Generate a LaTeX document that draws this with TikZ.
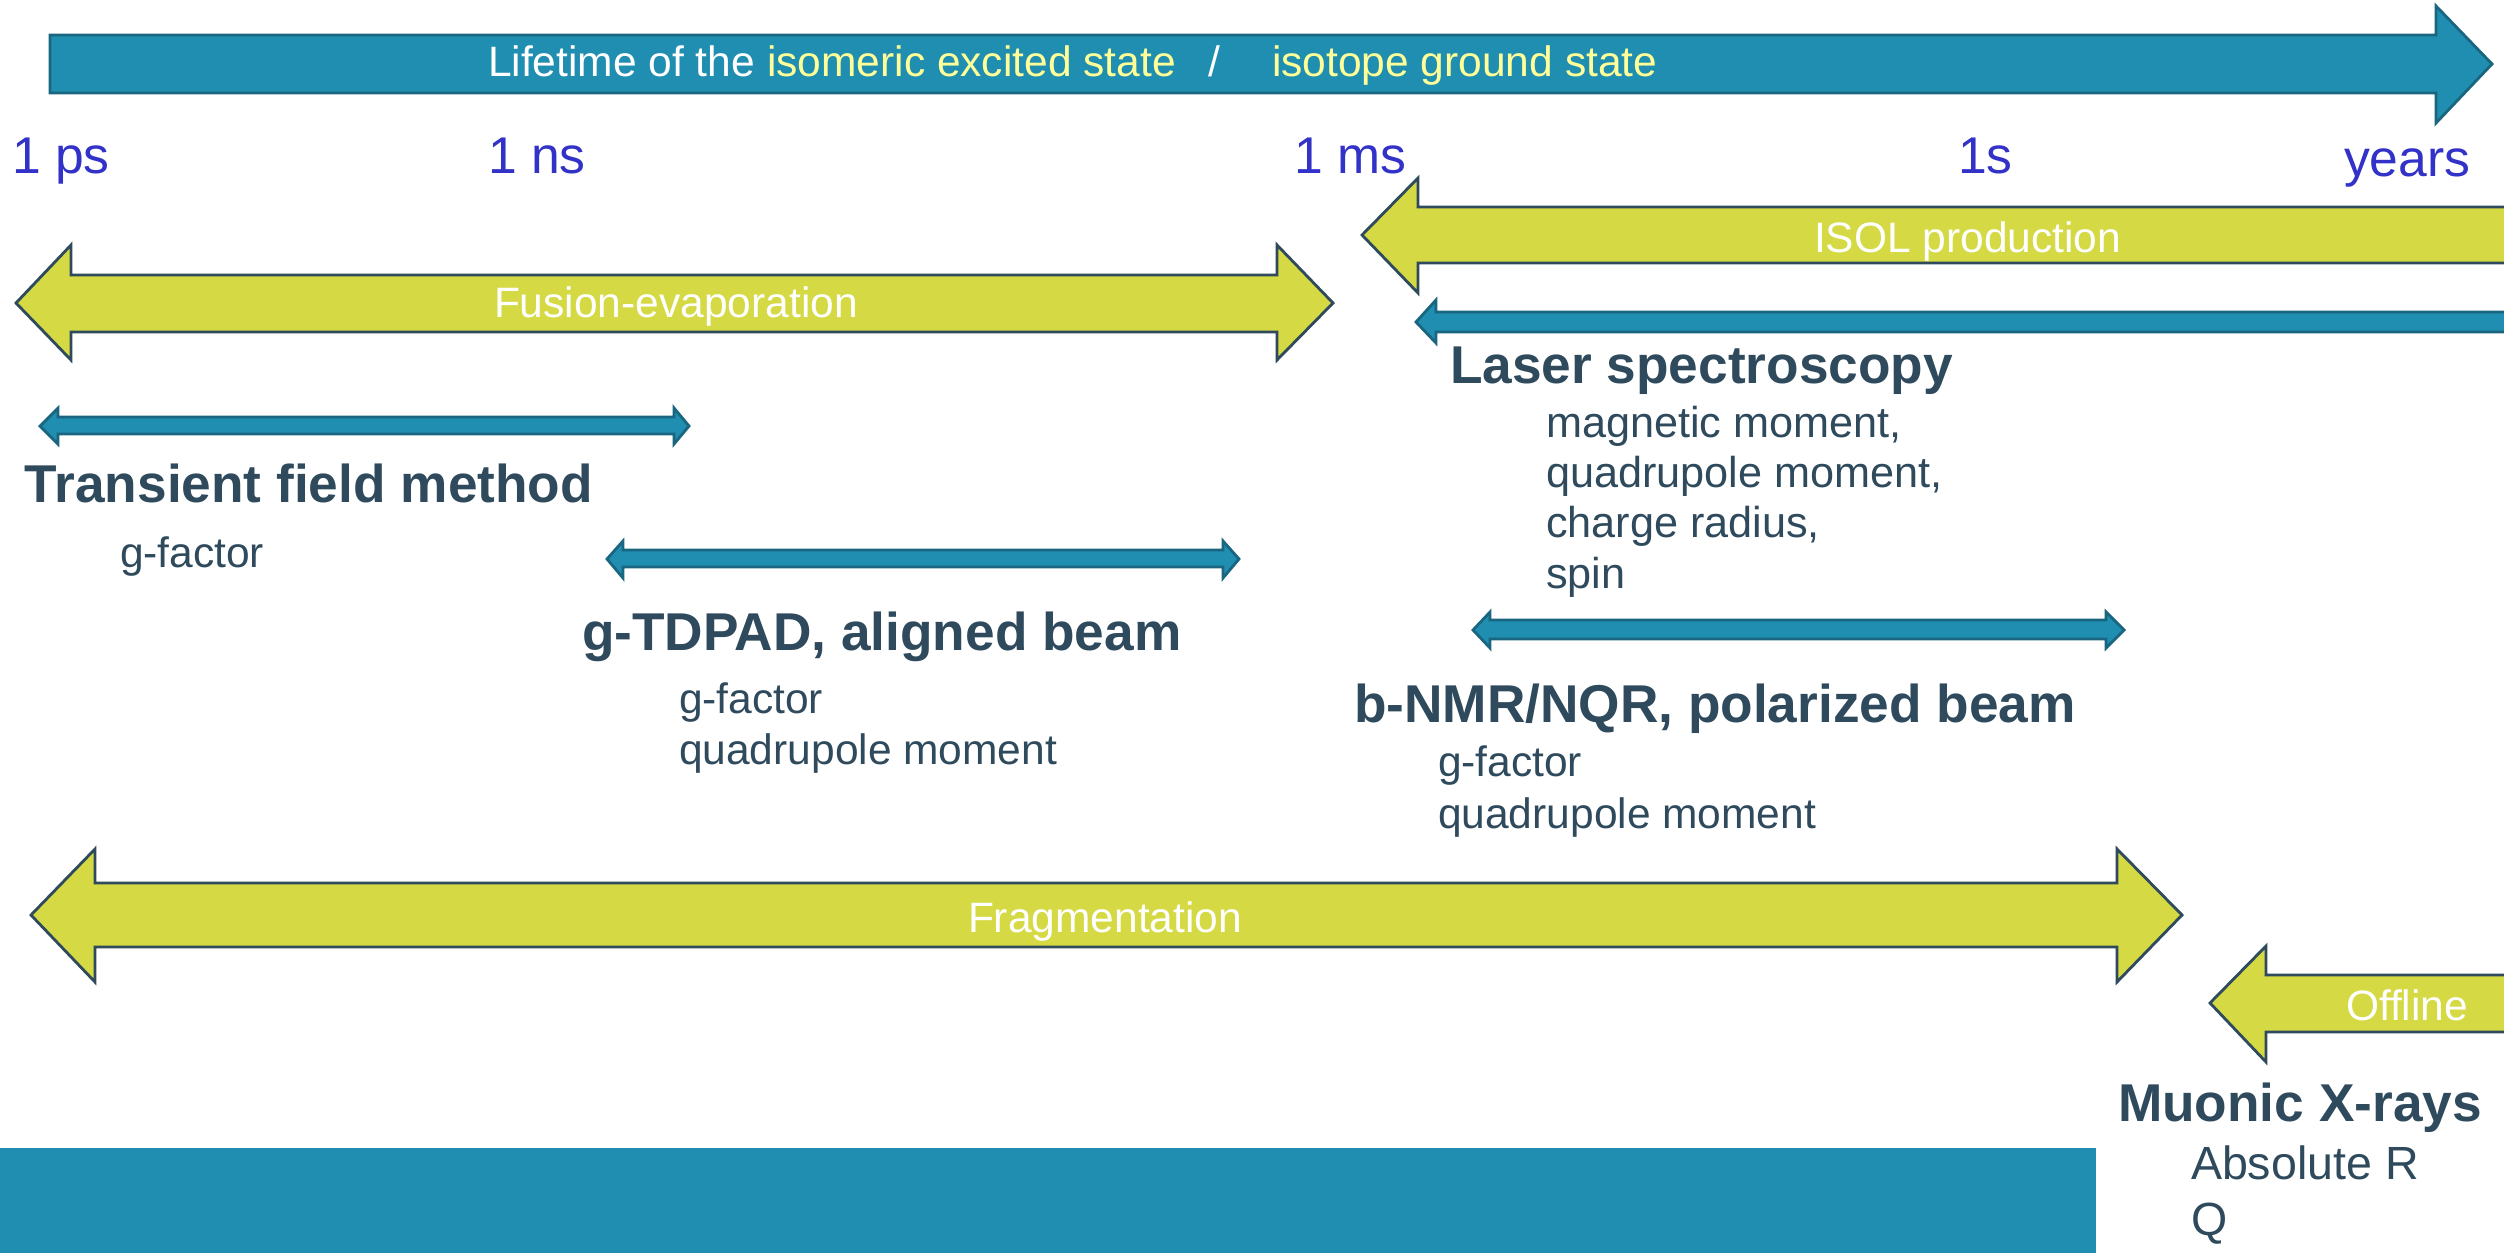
\documentclass[tikz,border=0pt]{standalone}
\usepackage{fontspec}
\setmainfont{Liberation Sans}
\definecolor{teal1}{HTML}{208EB0}
\definecolor{tealb}{HTML}{1A6680}
\definecolor{lime1}{HTML}{D4D944}
\definecolor{slate}{HTML}{2E4A5C}
\definecolor{bluelab}{HTML}{3232C8}
\definecolor{yel}{HTML}{FFFF99}
\tikzset{
  tealarrow/.style={fill=teal1,draw=tealb,line width=1.6pt,line join=miter},
  limearrow/.style={fill=lime1,draw=slate,line width=1.6pt,line join=miter},
  txt/.style={anchor=base west,inner sep=0pt,outer sep=0pt},
  arrowlab/.style={txt,font=\fontsize{24.2pt}{28pt}\selectfont},
  timelab/.style={txt,text=bluelab,font=\fontsize{29.4pt}{34pt}\selectfont},
  head/.style={txt,text=slate,font=\fontsize{30.3pt}{35pt}\selectfont\bfseries},
  item/.style={txt,text=slate,font=\fontsize{24.2pt}{28pt}\selectfont},
  itemlas/.style={txt,text=slate,font=\fontsize{24.6pt}{28pt}\selectfont},
  itembig/.style={txt,text=slate,font=\fontsize{26.5pt}{31pt}\selectfont}
}
\begin{document}
\begin{tikzpicture}[x=0.02cm,y=-0.02cm]
\useasboundingbox (0,0) rectangle (2504,1252);
\clip (0,0) rectangle (2504,1252);
% bottom bar
\fill[teal1] (0,1148) rectangle (2096,1260);
% top lifetime arrow
\draw[tealarrow] (50,35) -- (2436,35) -- (2436,6) -- (2492,64) -- (2436,123) -- (2436,93) -- (50,93) -- cycle;
% ISOL
\draw[limearrow] (2520,207) -- (1418,207) -- (1418,178) -- (1362,235) -- (1418,293) -- (1418,263) -- (2520,263);
% Laser spectroscopy arrow
\draw[tealarrow] (2520,312) -- (1436,312) -- (1436,300) -- (1416,322) -- (1436,343) -- (1436,332) -- (2520,332);
% Fusion-evaporation
\draw[limearrow] (16,303) -- (71,245) -- (71,275) -- (1277,275) -- (1277,245) -- (1333,303) -- (1277,360) -- (1277,332) -- (71,332) -- (71,360) -- cycle;
% Transient field
\draw[tealarrow] (40,426) -- (58,408) -- (58,417) -- (674,417) -- (674,408) -- (689,426) -- (674,444) -- (674,434) -- (58,434) -- (58,444) -- cycle;
% g-TDPAD
\draw[tealarrow] (607,559) -- (623,541) -- (623,550) -- (1223,550) -- (1223,541) -- (1239,559) -- (1223,578) -- (1223,567) -- (623,567) -- (623,578) -- cycle;
% b-NMR
\draw[tealarrow] (1473,630) -- (1490,612) -- (1490,620) -- (2106,620) -- (2106,612) -- (2124,630) -- (2106,648) -- (2106,639) -- (1490,639) -- (1490,648) -- cycle;
% Fragmentation
\draw[limearrow] (31,915) -- (95,849) -- (95,883) -- (2117,883) -- (2117,849) -- (2182,915) -- (2117,982) -- (2117,947) -- (95,947) -- (95,982) -- cycle;
% Offline
\draw[limearrow] (2520,975) -- (2266,975) -- (2266,946) -- (2210,1003) -- (2266,1062) -- (2266,1032) -- (2520,1032);

% top arrow text
\node[arrowlab,text=white] (lt1) at (488,76) {Lifetime of the};
\node[arrowlab,text=yel] (lt2) at (767,76) {isomeric excited state};
\node[arrowlab,text=white] (lt3) at (1208,76) {/};
\node[arrowlab,text=yel] (lt4) at (1272,76) {isotope ground state};
% time labels
\node[timelab] (tps) at (12,173) {1 ps};
\node[timelab] (tns) at (488,173) {1 ns};
\node[timelab] (tms) at (1294,173) {1 ms};
\node[timelab] (ts) at (1958,173) {1s};
\node[timelab] (ty) at (2344,176) {years};
% arrow labels
\node[arrowlab,text=white] (isol) at (1814,252) {ISOL production};
\node[arrowlab,text=white] (fus) at (494,317) {Fusion-evaporation};
\node[arrowlab,text=white] (frag) at (968,932) {Fragmentation};
\node[arrowlab,text=white] (off) at (2346,1020) {Offline};
% headings
\node[head] (hls) at (1450,383) {Laser spectroscopy};
\node[head] (htf) at (25,502) {Transient field method};
\node[head] (htd) at (582,650) {g-TDPAD, aligned beam};
\node[head] (hnm) at (1354,722) {b-NMR/NQR, polarized beam};
\node[head] (hmu) at (2118,1121) {Muonic X-rays};
% items
\node[item] (i1) at (120,567) {g-factor};
\node[item] (i2) at (679,713) {g-factor};
\node[item] (i3) at (679,764) {quadrupole moment};
\node[itemlas] (i4) at (1546,437) {magnetic moment,};
\node[itemlas] (i5) at (1546,487) {quadrupole moment,};
\node[itemlas] (i6) at (1546,537) {charge radius,};
\node[itemlas] (i7) at (1546,588) {spin};
\node[item] (i8) at (1438,776) {g-factor};
\node[item] (i9) at (1438,828) {quadrupole moment};
\node[itembig] (i10) at (2191,1179) {Absolute R};
\node[itembig] (i11) at (2191,1235) {Q};
\end{tikzpicture}
\end{document}
